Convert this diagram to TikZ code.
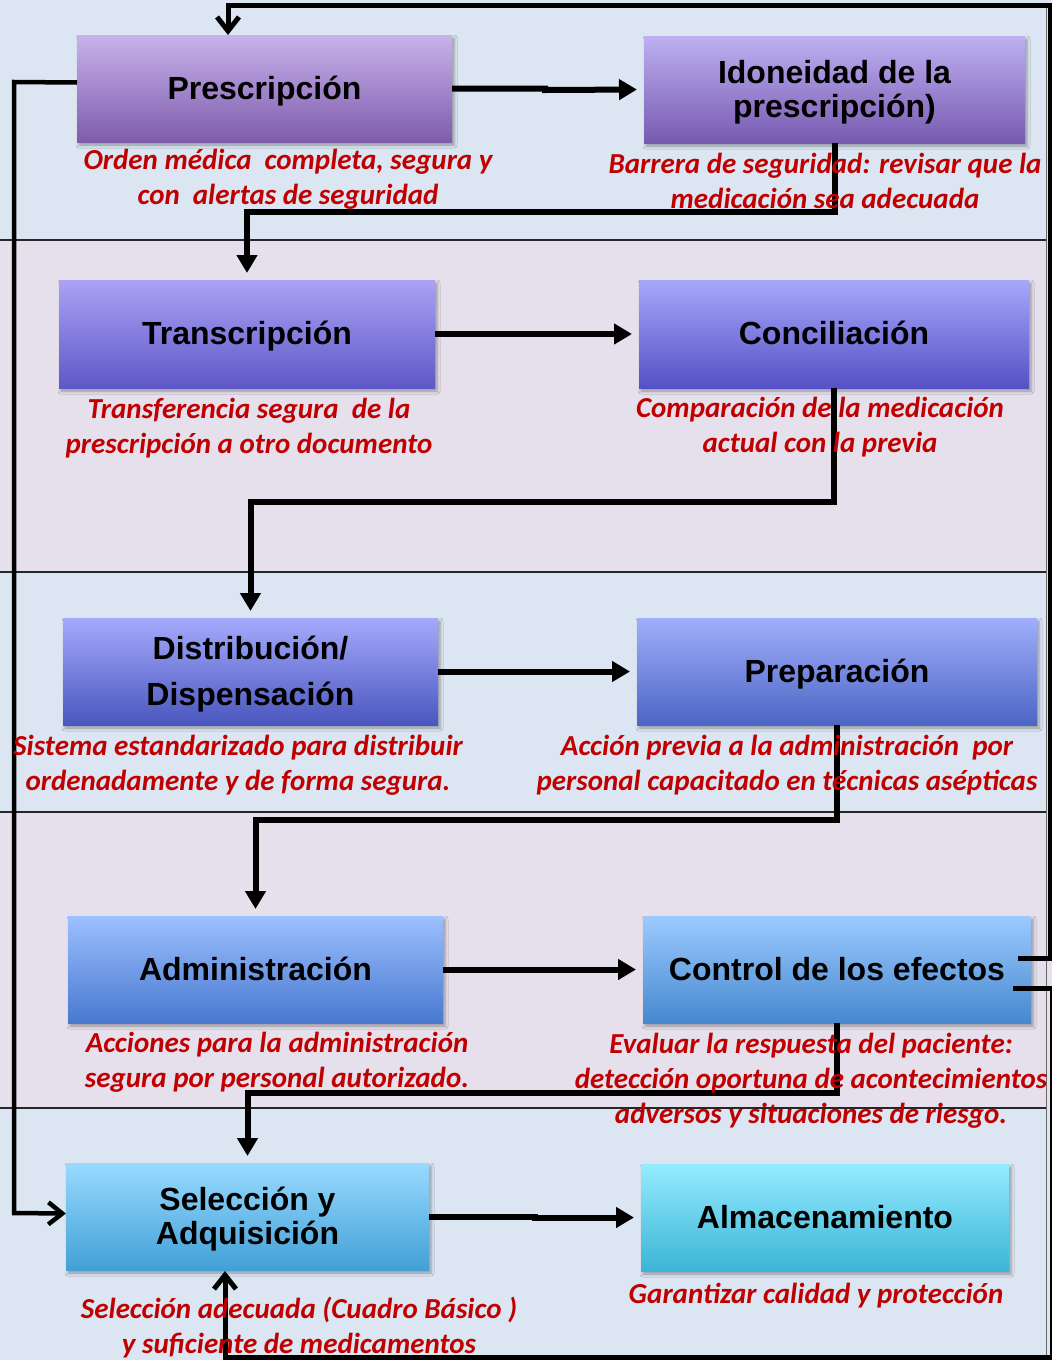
\documentclass[tikz,border=0pt]{standalone}
\usepackage{fontspec}
\setmainfont{Liberation Sans}
\newfontfamily\notefont{Carlito}
\usetikzlibrary{arrows.meta,shadows.blur,calc}

\definecolor{bandblue}{RGB}{220,230,242}
\definecolor{bandlilac}{RGB}{230,224,236}
\definecolor{notered}{RGB}{192,0,0}

\begin{document}
\begin{tikzpicture}[x=1pt,y=-1pt,
  stage/.style={inner sep=0pt, outer sep=0pt,
    blur shadow={shadow xshift=2pt,shadow yshift=-3pt,shadow blur radius=3pt,shadow opacity=35}},
  titlebase/.style={align=center, inner sep=0pt,
    font=\fontsize{32}{34}\selectfont\bfseries},
  title/.style={titlebase, yshift=-3pt},
  oneline/.style={titlebase, yshift=1pt, text height=30pt, text depth=7pt},
  note/.style={text=notered, align=center, inner sep=0pt,
    font=\notefont\fontsize{29}{35}\selectfont\bfseries\itshape},
  flow/.style={line width=6pt, -{Triangle[length=18pt,width=20pt]}, shorten >=7pt},
  back/.style={line width=5pt, -{Straight Barb[length=14pt,width=22pt]}},
  sep/.style={line width=1.8pt, black!85},
]
\useasboundingbox (0,0) rectangle (1052,1360);

% background bands
\fill[bandblue]  (0,0)    rectangle (1052,240);
\fill[bandlilac] (0,240)  rectangle (1052,572);
\fill[bandblue]  (0,572)  rectangle (1052,812);
\fill[bandlilac] (0,812)  rectangle (1052,1108);
\fill[bandblue]  (0,1108) rectangle (1052,1360);
\draw[sep] (0,240) -- (1047,240);
\draw[sep] (0,572) -- (1047,572);
\draw[sep] (0,812) -- (1047,812);
\draw[sep] (0,1108) -- (1047,1108);
\draw[line width=1pt, black!60] (1046,8) -- (1046,1356);

% stages
\node[stage, minimum width=375pt, minimum height=107pt, top color={rgb,255:red,200;green,178;blue,236}, bottom color={rgb,255:red,126;green,92;blue,172},
  label={[oneline]center:Prescripción}] (pre) at (264.5,88.5) {};
\node[stage, minimum width=381pt, minimum height=107pt, top color={rgb,255:red,190;green,176;blue,242}, bottom color={rgb,255:red,119;green,90;blue,176},
  label={[title]center:Idoneidad de la\\prescripción)}] (ido) at (834.5,89.5) {};
\node[stage, minimum width=376pt, minimum height=108pt, top color={rgb,255:red,170;green,162;blue,246}, bottom color={rgb,255:red,94;green,88;blue,198},
  label={[oneline]center:Transcripción}] (tra) at (247,334) {};
\node[stage, minimum width=390pt, minimum height=108pt, top color={rgb,255:red,166;green,168;blue,250}, bottom color={rgb,255:red,86;green,80;blue,198},
  label={[oneline]center:Conciliación}] (con) at (834,334) {};
\node[stage, minimum width=375pt, minimum height=107pt, top color={rgb,255:red,164;green,170;blue,252}, bottom color={rgb,255:red,74;green,86;blue,190},
  label={[title]center:Distribución/\\[12pt]Dispensación}] (dis) at (250.5,671.5) {};
\node[stage, minimum width=400pt, minimum height=107pt, top color={rgb,255:red,160;green,174;blue,252}, bottom color={rgb,255:red,76;green,102;blue,196},
  label={[oneline]center:Preparación}] (prep) at (837,671.5) {};
\node[stage, minimum width=375pt, minimum height=107pt, top color={rgb,255:red,156;green,192;blue,255}, bottom color={rgb,255:red,72;green,120;blue,207},
  label={[oneline]center:Administración}] (adm) at (255.5,969.5) {};
\node[stage, minimum width=388pt, minimum height=107pt, top color={rgb,255:red,156;green,202;blue,255}, bottom color={rgb,255:red,70;green,136;blue,206},
  label={[oneline]center:Control de los efectos}] (ctl) at (837,969.5) {};
\node[stage, minimum width=363pt, minimum height=107pt, top color={rgb,255:red,152;green,218;blue,255}, bottom color={rgb,255:red,66;green,160;blue,214},
  label={[title]center:Selección y\\Adquisición}] (sel) at (247.5,1216.5) {};
\node[stage, minimum width=368pt, minimum height=107pt, top color={rgb,255:red,148;green,236;blue,255}, bottom color={rgb,255:red,60;green,180;blue,214},
  label={[oneline]center:Almacenamiento}] (alm) at (825,1217.5) {};

% main flow
\draw[flow] (pre.east) -- ++(93,0) -- ++(0,1.5) -- (ido.west);
\draw[flow] (ido.south) -- ++(0,69) -| (tra.north);
\draw[flow] (tra.east) -- (con.west);
\draw[flow] (con.south) -- ++(0,114) -| (dis.north);
\draw[flow] (dis.east) -- (prep.west);
\draw[flow] (prep.south) -- ++(0,94.5) -| (adm.north);
\draw[flow] (adm.east) -- (ctl.west);
\draw[flow] (ctl.south) -- ++(0,70) -| (sel.north);
\draw[flow] (sel.east) -- ++(106,0) -- ++(0,1) -- (alm.west);

% return paths
\coordinate (preL) at ($(pre.west)+(0,-6)$);
\coordinate (selL) at ($(sel.west)+(0,-3)$);
\draw[back, line width=4.5pt] (preL) -- (14,82) -- (14,1213) -- (selL);

\coordinate (ctlA) at (1018,958);
\coordinate (ctlB) at (1013,988);
\coordinate (preT) at (228,35);
\coordinate (selB) at (225,1271);
\draw[back] (ctlA) -- (1050,958) -- (1050,5) -- (228,5) -- (preT);
\draw[back] (ctlB) -- (1052,988) -- (1052,1357) -- (225,1357) -- (selB);

% descriptions
\node[note] (n1) at (288,179) {Orden médica\ \ completa, segura y\\con\ \ alertas de seguridad};
\node[note] (n2) at (825,181) {Barrera de seguridad: revisar que la\\medicación sea adecuada};
\node[note] (n3) at (249,428) {Transferencia segura\ \ de la\\prescripción a otro documento};
\node[note] (n4) at (820,427) {Comparación de la medicación\\actual con la previa};
\node[note] (n5) at (238,765) {Sistema estandarizado para distribuir\\ordenadamente y de forma segura.};
\node[note] (n6) at (787,765) {Acción previa a la administración\ \ por\\personal capacitado en técnicas asépticas};
\node[note] (n7) at (277,1062) {Acciones para la administración\\segura por personal autorizado.};
\node[note] (n8) at (811,1081) {Evaluar la respuesta del paciente:\\detección oportuna de acontecimientos\\adversos y situaciones de riesgo.};
\node[note] (n9) at (299,1328) {Selección adecuada (Cuadro Básico )\\y suficiente de medicamentos};
\node[note] (n10) at (816,1296) {Garantizar calidad y protección};
\end{tikzpicture}
\end{document}
